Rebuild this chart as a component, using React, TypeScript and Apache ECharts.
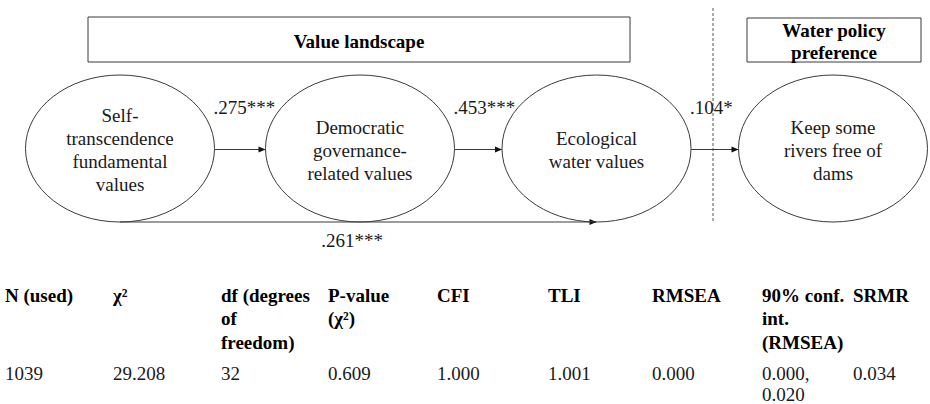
import React, { useEffect, useRef } from 'react';
import * as echarts from 'echarts';

// ---- data ----
const nodeLabels = [
  'Self-\ntranscendence\nfundamental\nvalues',
  'Democratic\ngovernance-\nrelated values',
  'Ecological\nwater values',
  'Keep some\nrivers free of\ndams',
];
const pathFrom = [0, 1, 2, 0];
const pathTo = [1, 2, 3, 2];
const pathCoefs = ['.275***', '.453***', '.104*', '.261***'];
const groupTitles = ['Value landscape', 'Water policy\npreference'];
const tableHeaders = [
  'N (used)',
  'χ²',
  'df (degrees\nof\nfreedom)',
  'P-value\n(χ²)',
  'CFI',
  'TLI',
  'RMSEA',
  '90% conf.\nint.\n(RMSEA)',
  'SRMR',
];
const tableValues = ['1039', '29.208', '32', '0.609', '1.000', '1.001', '0.000', '0.000,\n0.020', '0.034'];

// ---- layout ----
const FAMILY = 'Liberation Serif';
const nodeCx = [120, 360, 596.5, 833];
const nodeCy = 148.5;
const RX = 94.5;
const RY = 73.5;
const arrowY = 149.5;
const bottomY = 222;
const groupBoxes = [
  [88, 17, 542, 45],
  [747, 18, 174, 44],
];
const groupTextY = [[41], [30, 52]];
const dashX = 713;
const colX = [5, 113, 221, 328, 437, 548, 652, 762, 853];
const headerY = 295;
const valueY = 373;

const TEXT = '#1a1a1a';
const LINE = '#3a3a3a';

function txt(text: string, bold: boolean, extra: any) {
  return {
    text,
    fontFamily: FAMILY,
    fontSize: 19,
    fontWeight: bold ? 'bold' : 'normal',
    fill: bold ? '#000' : TEXT,
    ...extra,
  };
}

function arrowHead(x: number, y: number) {
  return {
    type: 'polygon',
    shape: { points: [[x, y], [x - 7, y - 3], [x - 7, y + 3]] },
    style: { fill: '#111' },
  };
}

function buildGraphics() {
  const els: any[] = [];
  groupTitles.forEach((t, i) => {
    const [x, y, w, h] = groupBoxes[i];
    els.push({
      type: 'rect',
      shape: { x, y, width: w, height: h },
      style: { fill: '#fff', stroke: LINE, lineWidth: 1 },
    });
    t.split('\n').forEach((line, k) => {
      els.push({
        type: 'text',
        x: x + w / 2,
        y: groupTextY[i][k],
        style: txt(line, true, { align: 'center', verticalAlign: 'middle' }),
        z: 5,
      });
    });
  });
  els.push({
    type: 'line',
    shape: { x1: dashX, y1: 8, x2: dashX, y2: bottomY },
    style: { stroke: '#555', lineWidth: 1, lineDash: [3, 2] },
  });
  pathFrom.forEach((f, i) => {
    const t = pathTo[i];
    if (t === f + 1) {
      const x1 = nodeCx[f] + RX;
      const x2 = nodeCx[t] - RX;
      els.push({
        type: 'line',
        shape: { x1, y1: arrowY, x2, y2: arrowY },
        style: { stroke: LINE, lineWidth: 1 },
      });
      els.push(arrowHead(x2, arrowY));
      els.push({
        type: 'text',
        x: x1 - 1,
        y: 107,
        style: txt(pathCoefs[i], false, { align: 'left', verticalAlign: 'middle' }),
        z: 5,
      });
    } else {
      const x1 = nodeCx[f];
      const x2 = nodeCx[t];
      els.push({
        type: 'line',
        shape: { x1, y1: bottomY, x2, y2: bottomY },
        style: { stroke: LINE, lineWidth: 1.2 },
      });
      els.push(arrowHead(x2, bottomY));
      els.push({
        type: 'text',
        x: 352,
        y: 240,
        style: txt(pathCoefs[i], false, { align: 'center', verticalAlign: 'middle' }),
        z: 5,
      });
    }
  });
  nodeLabels.forEach((lab, i) => {
    els.push({
      type: 'ellipse',
      shape: { cx: nodeCx[i], cy: nodeCy, rx: RX, ry: RY },
      style: { fill: 'rgba(255,255,255,0)', stroke: LINE, lineWidth: 1 },
      z: 3,
    });
    els.push({
      type: 'text',
      x: nodeCx[i],
      y: 150,
      style: txt(lab, false, { lineHeight: 23, align: 'center', verticalAlign: 'middle' }),
      z: 5,
    });
  });
  tableHeaders.forEach((h, i) => {
    els.push({
      type: 'text',
      x: colX[i],
      y: headerY - 11.75,
      style: txt(h, true, { lineHeight: 23.5, align: 'left', verticalAlign: 'top' }),
    });
  });
  tableValues.forEach((v, i) => {
    els.push({
      type: 'text',
      x: colX[i],
      y: valueY - 10.5,
      style: txt(v, false, { lineHeight: 21, align: 'left', verticalAlign: 'top' }),
    });
  });
  return els;
}

export default function App() {
  const ref = useRef<HTMLDivElement>(null);
  useEffect(() => {
    if (!ref.current) return;
    const chart = echarts.init(ref.current, undefined, { renderer: 'svg' });
    chart.setOption({
      animation: false,
      backgroundColor: '#ffffff',
      graphic: { elements: buildGraphics() },
    });
    return () => chart.dispose();
  }, []);
  return (
    <div
      ref={ref}
      style={{ position: 'absolute', left: 0, top: 0, width: 930, height: 404, background: '#fff' }}
    />
  );
}
